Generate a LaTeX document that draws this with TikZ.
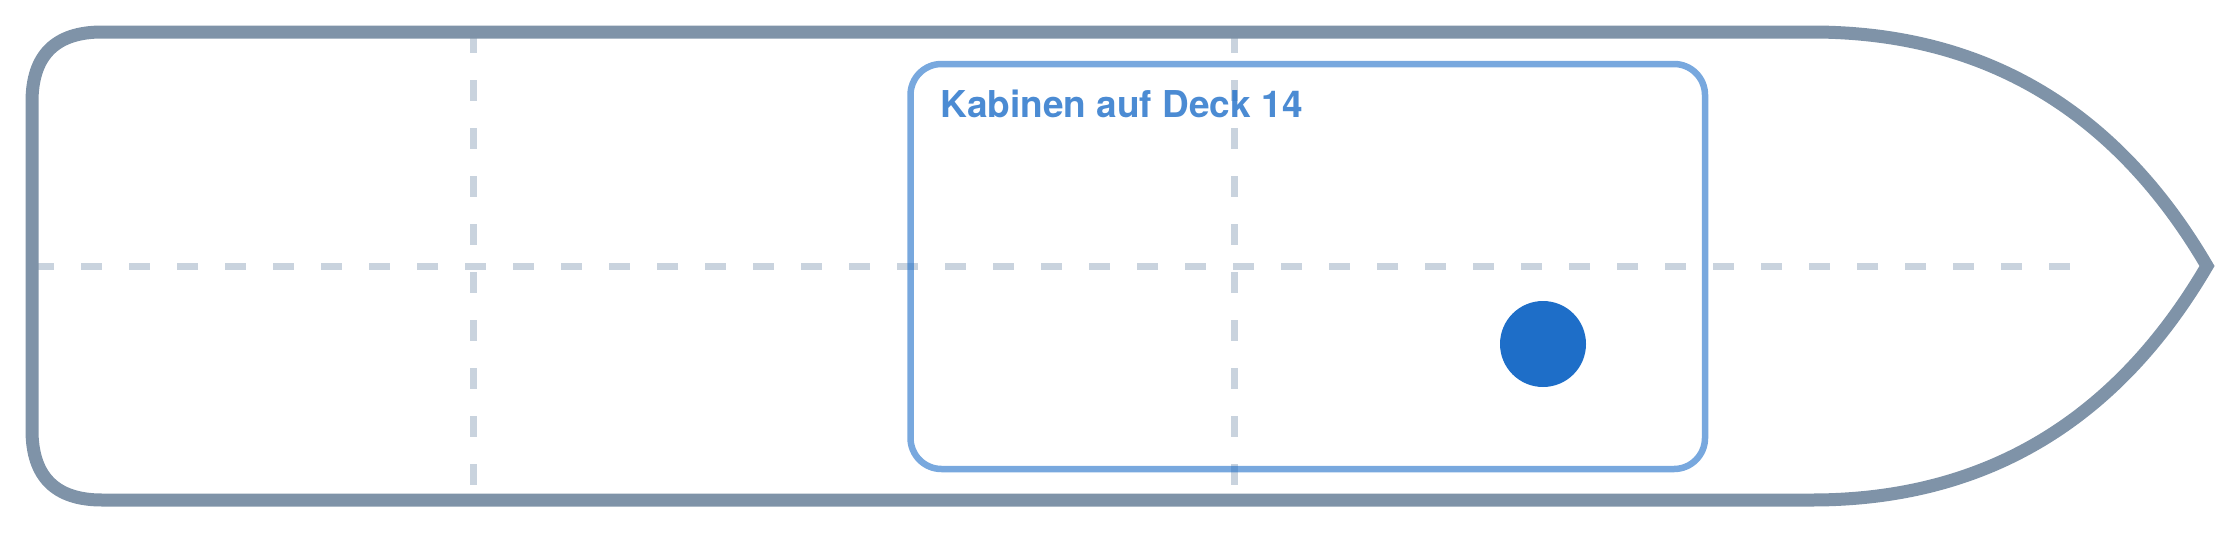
\documentclass[tikz,border=0pt]{standalone}
\usepackage{fontspec}
\setmainfont{TeX Gyre Heros}
\definecolor{hullc}{HTML}{7F93A8}
\definecolor{gridc}{HTML}{C9D3DE}
\definecolor{cabinc}{HTML}{1E6EC8}
\tikzset{
  hullline/.style={draw=hullc, line width=13pt, line join=miter},
  gridline/.style={draw=gridc, line width=7pt, dash pattern=on 21pt off 27pt},
  cabinbox/.style={draw=cabinc, draw opacity=0.6, line width=6.5pt, rounded corners=31pt},
  cabinlabel/.style={text=cabinc, text opacity=0.8, font=\fontsize{37}{44}\selectfont\bfseries, inner sep=0pt, anchor=base west},
  posdot/.style={circle, fill=cabinc, minimum size=86pt, inner sep=0pt}
}
\begin{document}
\begin{tikzpicture}[x=1pt, y=-1pt]
\useasboundingbox (0,0) rectangle (2240,533);
% grid lines
\coordinate (v1t) at (473,32);  \coordinate (v1b) at (473,500);
\coordinate (v2t) at (1234,32); \coordinate (v2b) at (1234,500);
\coordinate (hl) at (33,266);   \coordinate (hr) at (2070,266);
\draw[gridline] (v1t) -- (v1b);
\draw[gridline] (v2t) -- (v2b);
\draw[gridline] (hl) -- (hr);
% hull
\draw[hullline] (32,102) .. controls (32,55.3) and (55.3,32) .. (102,32) -- (1812,32)
  .. controls (1984,32) and (2115.7,110) .. (2207,266)
  .. controls (2115.7,422) and (1984,500) .. (1812,500) -- (102,500)
  .. controls (55.3,500) and (32,476.7) .. (32,430) -- cycle;
% cabin area
\draw[cabinbox] (910.5,64) rectangle (1705,469);
\node[cabinlabel] (label) at (940.5,117) {Kabinen auf Deck 14};
\node[posdot] (dot) at (1543,344) {};
\end{tikzpicture}
\end{document}
